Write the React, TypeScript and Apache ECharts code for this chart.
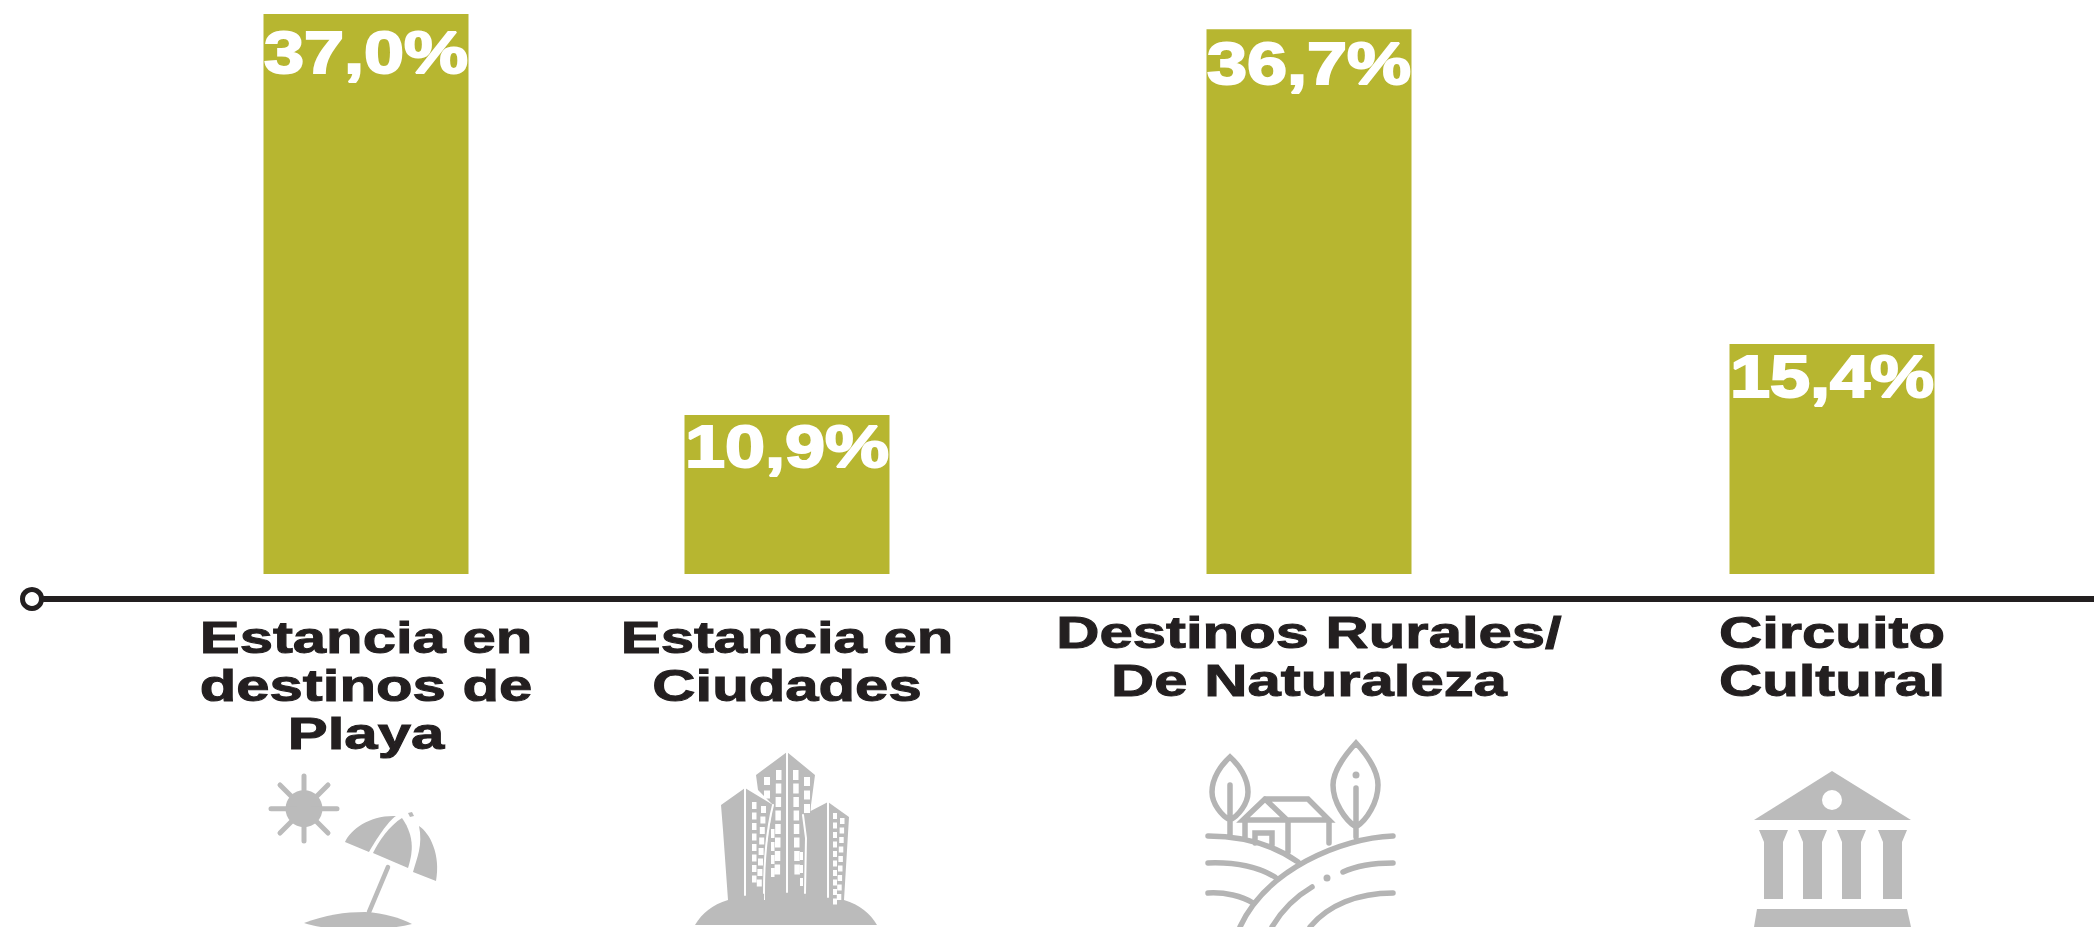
import React, { useEffect, useRef } from "react";
import * as echarts from "echarts";

// Printed labels and names from the reference.
const categories = ["Estancia en\ndestinos de\nPlaya", "Estancia en\nCiudades", "Destinos Rurales/\nDe Naturaleza", "Circuito\nCultural"];
const valueLabels = ["37,0%", "10,9%", "36,7%", "15,4%"];
// Bar heights as drawn in the reference (the source artwork is not perfectly to scale with its printed labels).
const drawnValues = [37.0, 10.5, 36.0, 15.2];
// Bar centres along the horizontal axis (the source spaces the bars unevenly).
const slots = [366, 787, 1309, 1832];

// Text placement, as in the source artwork.
const labelDrop = [15, 8, 11, 9];
const categoryTop = [613, 613, 608, 608];

const GRAY = "#bbbbbb";
const RURAL = "#b4b4b4";
const INK = "#231f20";
const WHITE = "#ffffff";
const WIDE = "Liberation Sans";

function windows(x: number, y: number, w: number, h: number, step: number, n: number, dx = 0) {
  let d = "";
  for (let i = 0; i < n; i++) {
    const px = x + dx * i;
    d += `M${px},${y + i * step}h${w}v${h}h${-w}Z`;
  }
  return d;
}

const icons: Record<string, { fill?: string; stroke?: string; lw?: number; d: string }> = {
  sunBody: { fill: GRAY, d: "M285.5,808.7a18.5,18.5 0 1,0 37,0a18.5,18.5 0 1,0 -37,0Z" },
  sunRays: { stroke: GRAY, lw: 5, d: "M304,776V841M271,808.7H337M280,785L328,833M328,785L280,833" },
  canopyL: { fill: GRAY, d: "M345,842C351,829 370,815 396,816C388,821 376,840 369,852Z" },
  canopyM: { fill: GRAY, d: "M402,818C390,825 378,842 373,853L408,868C412,855 416,838 402,818Z" },
  canopyR: { fill: GRAY, d: "M419,826C430,833 441,855 436,881L413,872C417,858 423,845 419,826Z" },
  umbrellaTip: { fill: GRAY, d: "M408,813L412,812L414,816L410,817Z" },
  pole: { stroke: GRAY, lw: 4.5, d: "M388,867L369,912" },
  mound: { fill: GRAY, d: "M304,923C325,915 345,912 365,912C385,913 400,918 412,924C395,928 375,930 358,930C340,930 320,928 304,923Z" },
  cityBase: { fill: GRAY, d: "M695,925C702,913 712,905 728,900H844C860,905 870,913 877,925Z" },
  towerC: { fill: GRAY, d: "M787,752L815,775L811,805L805,900H765L765,855L773,805L758,790L756,775Z" },
  towerL: { fill: GRAY, d: "M745,788L773,805L765,855L764,900H728L723,830L721,805Z" },
  towerR: { fill: GRAY, d: "M828,802L849,817L844,900H805L806,838L803,815Z" },
  cityLines: {
    stroke: WHITE,
    lw: 2,
    d: "M787,752V892M745,788V895M773,805C768,825 764,850 764,893M803,815L806,838L805,893M828,802V897",
  },
  cityWindows: {
    fill: WHITE,
    d:
      windows(776, 770, 5.5, 10, 13.5, 8, -0.2) +
      windows(793, 770, 5.5, 10, 13.5, 8, 0.2) +
      windows(764, 777, 6, 8, 13.5, 2) +
      windows(804, 777, 6, 9, 13.5, 3) +
      windows(771, 829, 3.5, 9, 13, 4) +
      windows(800, 852, 3, 8, 13, 3) +
      windows(752, 802, 4.5, 7, 10.5, 8) +
      windows(761, 806, 5, 7, 10.5, 8, -0.6) +
      windows(833, 813, 4, 6, 9.5, 10) +
      windows(840, 818, 4.5, 6, 9.5, 9, -0.4),
  },
  ruralLines: {
    stroke: RURAL,
    lw: 5.5,
    d:
      "M1208,836C1240,836 1272,844 1298,862" +
      "M1393,836C1340,838 1266,870 1240,927" +
      "M1208,863C1235,862 1258,867 1275,877" +
      "M1343,872C1358,865 1375,863 1393,863" +
      "M1208,893C1225,892 1242,896 1253,903" +
      "M1393,893C1358,893 1328,905 1310,927" +
      "M1312,887C1295,897 1282,910 1272,927" +
      "M1230,757C1221,765 1212,778 1212,792C1212,804 1222,816 1230,820C1238,816 1248,804 1248,792C1248,778 1239,765 1230,757Z" +
      "M1230,785V835" +
      "M1356,743C1345,755 1333,770 1333,785C1333,802 1345,820 1356,827C1367,820 1378,802 1378,785C1378,770 1367,755 1356,743Z" +
      "M1356,788V837" +
      "M1243,820L1265,799H1308L1329,820Z" +
      "M1265,799L1287,820" +
      "M1245,820V838M1288,820V852M1329,820V843" +
      "M1255,843V833H1272V845",
  },
  ruralDots: { fill: RURAL, d: "M1352.5,775a3.5,3.5 0 1,0 7,0a3.5,3.5 0 1,0 -7,0ZM1323.5,878a3.5,3.5 0 1,0 7,0a3.5,3.5 0 1,0 -7,0Z" },
  pediment: { fill: GRAY, d: "M1832,771L1911,820H1754Z" },
  pedimentHole: { fill: WHITE, d: "M1822,800a10,10 0 1,0 20,0a10,10 0 1,0 -20,0Z" },
  columns: {
    fill: GRAY,
    d: [1759, 1798, 1837, 1878]
      .map((x) => `M${x},830H${x + 29}L${x + 24},842V899H${x + 5}V842Z`)
      .join(""),
  },
  plinth: { fill: GRAY, d: "M1757,909H1907L1911,927H1754Z" },
};

Object.entries(icons).forEach(([k, v]) => {
  echarts.graphic.registerShape("icon_" + k, echarts.graphic.extendPath(v.d, {}) as any);
});

export default function App() {
  const ref = useRef<HTMLDivElement>(null);
  useEffect(() => {
    const chart = echarts.init(ref.current!, undefined, { renderer: "svg" });
    chart.setOption({
      animation: false,
      backgroundColor: WHITE,
      grid: { left: 44, right: 0, top: 0, bottom: 927 - 574, containLabel: false },
      xAxis: {
        type: "value",
        min: 44,
        max: 2094,
        offset: 25,
        splitLine: { show: false },
        axisLine: { show: true, onZero: false, lineStyle: { color: INK, width: 6 } },
        axisTick: { show: false },
        axisLabel: { show: false },
      },
      yAxis: { type: "value", min: 0, max: 574 / (560 / 37), show: false, splitLine: { show: false } },
      series: [
        {
          type: "bar",
          barWidth: 205,
          itemStyle: { color: "#b7b630" },
          data: slots.map((s, i) => [s, drawnValues[i]]),
        },
      ],
    });

    const iconElements = Object.entries(icons).map(([k, v]) => ({
      type: "icon_" + k,
      x: 0,
      y: 0,
      silent: true,
      style: {
        fill: v.fill ?? "none",
        stroke: v.stroke ?? "none",
        lineWidth: v.lw ?? 0,
        lineCap: "round",
      },
    }));
    const barTops = slots.map((s, i) => chart.convertToPixel({ seriesIndex: 0 }, [s, drawnValues[i]]) as number[]);
    const valueTexts = valueLabels.map((t, i) => ({
      type: "text",
      x: barTops[i][0],
      y: barTops[i][1] + labelDrop[i] + 23,
      scaleX: 1.2,
      silent: true,
      z: 10,
      style: {
        text: t,
        fontFamily: WIDE,
        fontWeight: "bold",
        fontSize: 60,
        align: "center",
        verticalAlign: "middle",
        fill: WHITE,
        stroke: WHITE,
        lineWidth: 2,
      },
    }));
    const categoryTexts = categories.map((t, i) => ({
      type: "text",
      x: barTops[i][0],
      y: categoryTop[i],
      scaleX: 1.33,
      silent: true,
      style: {
        text: t,
        fontFamily: WIDE,
        fontWeight: "bold",
        fontSize: 45,
        lineHeight: 48,
        align: "center",
        verticalAlign: "top",
        fill: INK,
        stroke: INK,
        lineWidth: 1,
      },
    }));
    chart.setOption({
      graphic: [
        {
          type: "circle",
          shape: { cx: 32, cy: 599, r: 9.5 },
          style: { fill: WHITE, stroke: INK, lineWidth: 5 },
          silent: true,
        },
        ...iconElements,
        ...valueTexts,
        ...categoryTexts,
      ],
    });
    return () => chart.dispose();
  }, []);
  return <div ref={ref} style={{ position: "absolute", left: 0, top: 0, width: 2094, height: 927 }} />;
}
